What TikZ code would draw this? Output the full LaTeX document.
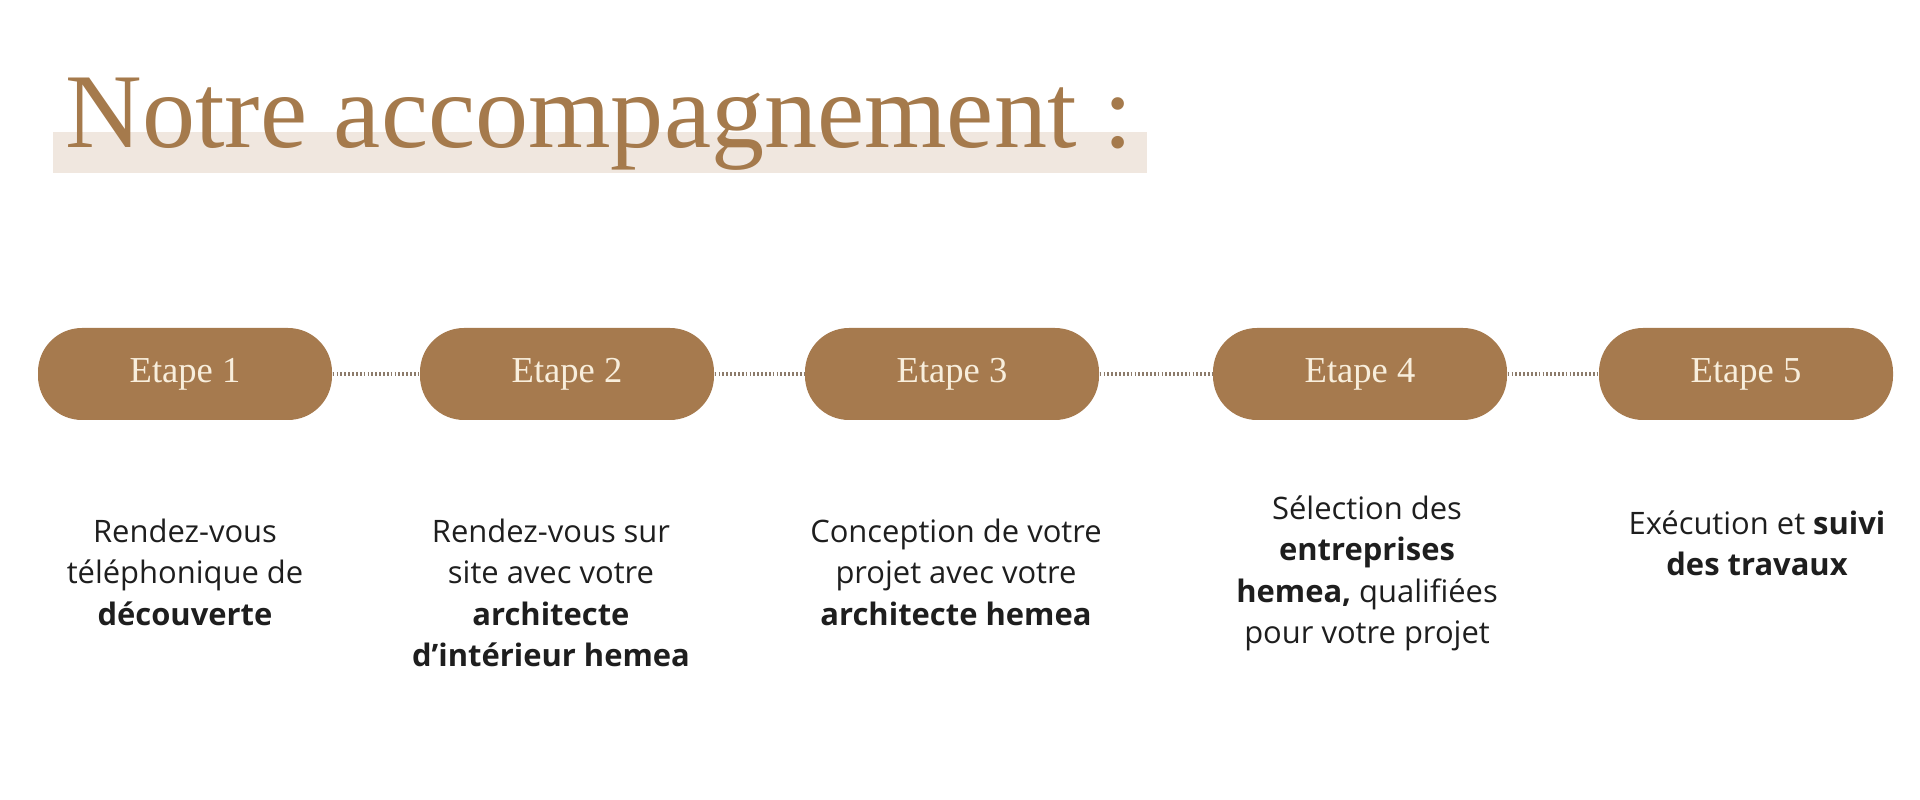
\documentclass[tikz,border=0pt]{standalone}
\usepackage{fontspec}
\setmainfont{Liberation Serif}
\newfontfamily\bodyfont{Open Sans}
\usetikzlibrary{positioning}
\definecolor{brun}{HTML}{A67A4E}
\definecolor{titre}{HTML}{A57A4C}
\definecolor{bande}{HTML}{F0E7DF}
\definecolor{creme}{HTML}{F8EEDC}
\definecolor{pointille}{HTML}{8C7B6B}
\definecolor{texte}{HTML}{1E1E1E}

\begin{document}
\begin{tikzpicture}
  [etaN/.style={fill=brun,rounded corners=0.44cm,minimum width=2.94cm,
     minimum height=0.92cm,text=creme,font=\fontsize{10.4}{12}\selectfont},
   descN/.style={align=center,anchor=north,inner sep=0pt,text=texte,
     font=\bodyfont\fontsize{8.8}{11.8}\selectfont},
   lien/.style={pointille,line width=1pt,dash pattern=on 0.5pt off 0.6pt},
  ]
  \useasboundingbox (0,0) rectangle (19.2,8);

  % titre
  \fill[bande] (0.53,6.27) rectangle (11.47,6.68);
  \node[anchor=base west,inner sep=0pt,text=titre,font=\fontsize{30.2}{36}\selectfont]
    (titre) at (0.65,6.52) {Notre accompagnement :};

  % etapes
  \node[etaN] (e1) at (1.85,4.26) {Etape 1};
  \node[etaN] (e2) at (5.67,4.26) {Etape 2};
  \node[etaN] (e3) at (9.52,4.26) {Etape 3};
  \node[etaN] (e4) at (13.60,4.26) {Etape 4};
  \node[etaN] (e5) at (17.46,4.26) {Etape 5};

  \draw[lien] (e1) -- (e2);
  \draw[lien] (e2) -- (e3);
  \draw[lien] (e3) -- (e4);
  \draw[lien] (e4) -- (e5);

  % descriptions
  \node[descN] (d1) at (1.85,2.82)
    {Rendez-vous\\t\'el\'ephonique de\\\textbf{d\'ecouverte}};
  \node[descN] (d2) at (5.51,2.82)
    {Rendez-vous sur\\site avec votre\\\textbf{architecte}\\\textbf{d’int\'erieur hemea}};
  \node[descN] (d3) at (9.56,2.82)
    {Conception de votre\\projet avec votre\\\textbf{architecte hemea}};
  \node[descN] (d4) at (13.67,3.05)
    {S\'election des\\\textbf{entreprises}\\\textbf{hemea,} qualifi\'ees\\pour votre projet};
  \node[descN] (d5) at (17.57,2.90)
    {Ex\'ecution et \textbf{suivi}\\\textbf{des travaux}};
\end{tikzpicture}
\end{document}
